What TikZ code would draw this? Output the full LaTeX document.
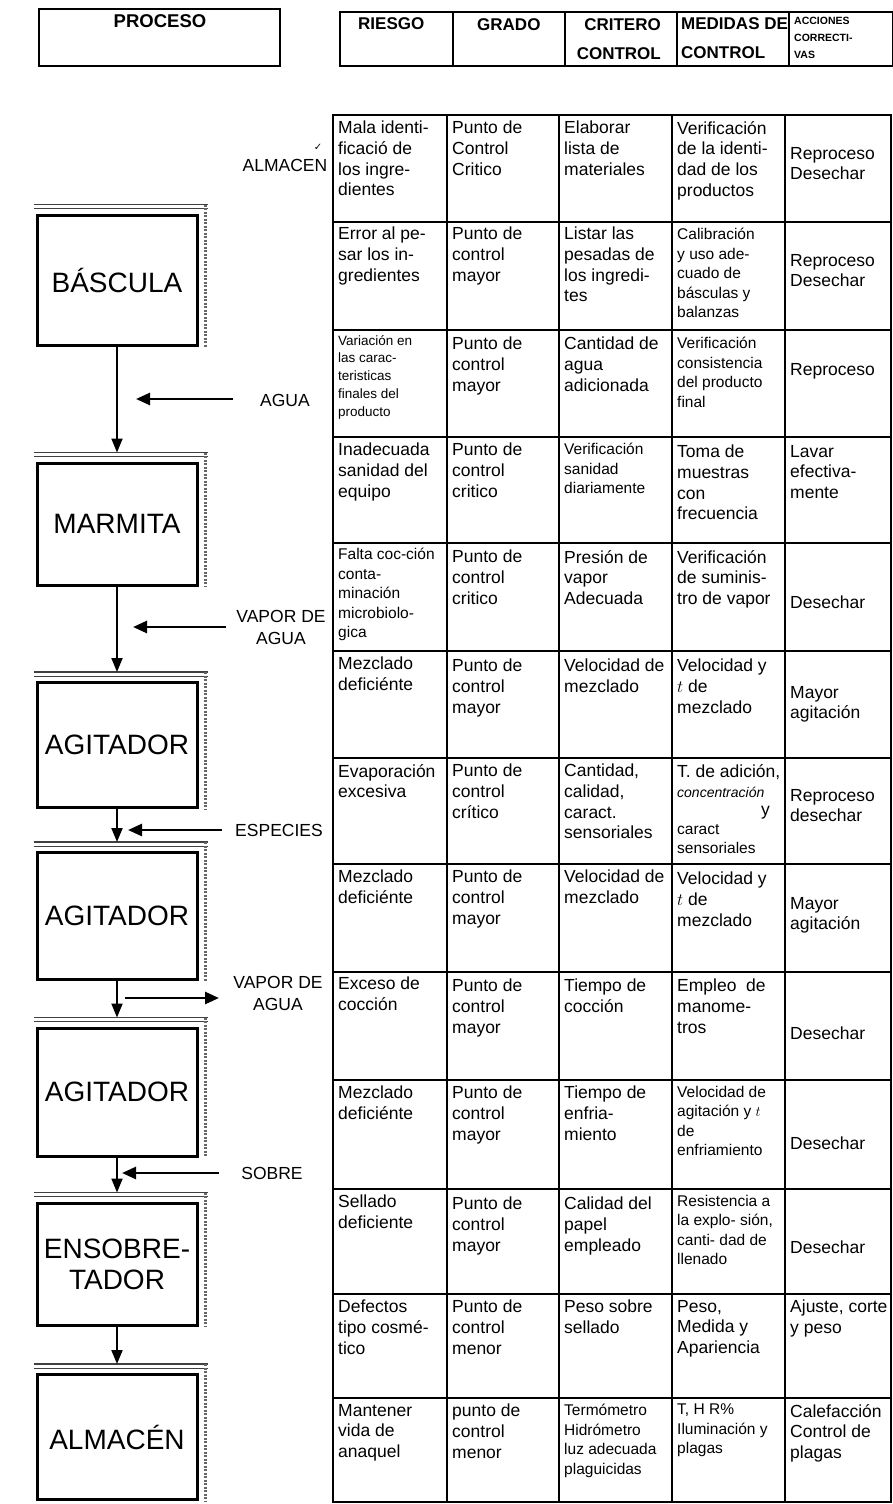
\documentclass[tikz,border=0pt]{standalone}
\usepackage{fontspec}
\setmainfont{Liberation Sans}
\newfontfamily\symfont{DejaVu Sans}
\usetikzlibrary{arrows.meta,calc}
\begin{document}
\begin{tikzpicture}[x=1pt,y=-1pt,
  tline/.style={line width=2.2pt, line cap=rect},
  cell/.style={anchor=north west, align=left, inner sep=0pt, font=\fontsize{17.5}{20.7}\selectfont},
  cellsm/.style={cell, font=\fontsize{15.5}{19.5}\selectfont},
  celltiny/.style={cell, font=\fontsize{13.5}{17.8}\selectfont},
  hdr/.style={anchor=north west, align=left, inner sep=0pt, font=\bfseries\fontsize{17}{29}\selectfont},
  hdrsm/.style={hdr, font=\bfseries\fontsize{10.5}{17}\selectfont},
  flowbox/.style={draw, line width=3pt, minimum width=160pt, align=center, inner sep=0pt, font=\fontsize{28}{31}\selectfont},
  shadeline/.style={line width=1.6pt, black!75},
  shadeside/.style={line width=3pt, black!60, dash pattern=on 2pt off 1.5pt},
  side/.style={align=center, inner sep=0pt, font=\fontsize{17.5}{22}\selectfont},
  flow/.style={line width=2pt, -{Triangle[length=14pt,width=11pt]}},
  feed/.style={line width=2.6pt, -{Triangle[length=14pt,width=12pt]}},
]
\useasboundingbox (0,0) rectangle (893,1504);

% ---------- column headings ----------
\node[draw, line width=2pt, minimum width=241pt, minimum height=57pt, anchor=north west, inner sep=0pt] (proc) at (38,8) {};
\node[hdr, anchor=north, font=\bfseries\fontsize{18.5}{22}\selectfont] (procT) at (160,14) {PROCESO};

\draw[tline] (340,12) rectangle (893,66);
\foreach \x in {453,565,677,789} \draw[tline] (\x,12) -- (\x,66);
\node[hdr] (hRiesgo) at (358,17) {RIESGO};
\node[hdr] (hGrado) at (477,18) {GRADO};
\node[hdr, align=right, anchor=north east] (hCrit) at (661,18) {CRITERO\\CONTROL};
\node[hdr] (hMed) at (681,17) {MEDIDAS DE\\CONTROL};
\node[hdrsm] (hAcc) at (794,17) {ACCIONES\\CORRECTI-\\VAS};

% ---------- hazard table grid ----------
\draw[tline] (333,115) rectangle (891,1502);
\foreach \x in {447,559,672,785} \draw[tline] (\x,115) -- (\x,1502);
\foreach \y in {222,330,437,543,651,758,864,972,1080,1189,1294,1398} \draw[tline] (333,\y) -- (891,\y);

% row 1
\node[cell] (r1c1) at (338,121) {Mala identi-\\ficació de\\los ingre-\\dientes};
\node[cell] (r1c2) at (452,121) {Punto de\\Control\\Critico};
\node[cell] (r1c3) at (564,121) {Elaborar\\lista de\\materiales};
\node[cell] (r1c4) at (677,121) {Verificación\\de la identi-\\dad de los\\productos};
\node[cell] (r1c5) at (790,147) {Reproceso\\Desechar};
% row 2
\node[cell] (r2c1) at (338,227) {Error al pe-\\sar los in-\\gredientes};
\node[cell] (r2c2) at (452,227) {Punto de\\control\\mayor};
\node[cell] (r2c3) at (564,227) {Listar las\\pesadas de\\los ingredi-\\tes};
\node[cellsm] (r2c4) at (677,228) {Calibración\\y uso ade-\\cuado de\\básculas y\\balanzas};
\node[cell] (r2c5) at (790,254) {Reproceso\\Desechar};
% row 3
\node[celltiny] (r3c1) at (338,335) {Variación en\\las carac-\\teristicas\\finales del\\producto};
\node[cell] (r3c2) at (452,337) {Punto de\\control\\mayor};
\node[cell] (r3c3) at (564,337) {Cantidad de\\agua\\adicionada};
\node[cellsm] (r3c4) at (677,337) {Verificación\\consistencia\\del producto\\final};
\node[cell] (r3c5) at (790,363) {Reproceso};
% row 4
\node[cell] (r4c1) at (338,443) {Inadecuada\\sanidad del\\equipo};
\node[cell] (r4c2) at (452,443) {Punto de\\control\\critico};
\node[cellsm] (r4c3) at (564,443) {Verificación\\sanidad\\diariamente};
\node[cell] (r4c4) at (677,445) {Toma de\\muestras\\con\\frecuencia};
\node[cell] (r4c5) at (790,445) {Lavar\\efectiva-\\mente};
% row 5
\node[cellsm] (r5c1) at (338,548) {Falta coc-ción\\conta-\\minación\\microbiolo-\\gica};
\node[cell] (r5c2) at (452,550) {Punto de\\control\\critico};
\node[cell] (r5c3) at (564,550) {Presión de\\vapor\\Adecuada};
\node[cell] (r5c4) at (677,550) {Verificación\\de suminis-\\tro de vapor};
\node[cell] (r5c5) at (790,596) {Desechar};
% row 6
\node[cell] (r6c1) at (338,657) {Mezclado\\deficiénte};
\node[cell] (r6c2) at (452,659) {Punto de\\control\\mayor};
\node[cell] (r6c3) at (564,659) {Velocidad de\\mezclado};
\node[cell] (r6c4) at (677,659) {Velocidad y\\$t$ de\\mezclado};
\node[cell] (r6c5) at (790,686) {Mayor\\agitación};
% row 7
\node[cell] (r7c1) at (338,764) {Evaporación\\excesiva};
\node[cell] (r7c2) at (452,764) {Punto de\\control\\crítico};
\node[cell] (r7c3) at (564,764) {Cantidad,\\calidad,\\caract.\\sensoriales};
\node[cell] (r7c4) at (677,764) {T. de adición,\\{\fontsize{14}{20.7}\selectfont\itshape concentración}};
\node[cell, anchor=north east] (r7c4y) at (770,806) {y};
\node[cellsm] (r7c4b) at (677,824) {caract\\sensoriales};
\node[cell] (r7c5) at (790,789) {Reproceso\\desechar};
% row 8
\node[cell] (r8c1) at (338,870) {Mezclado\\deficiénte};
\node[cell] (r8c2) at (452,870) {Punto de\\control\\mayor};
\node[cell] (r8c3) at (564,870) {Velocidad de\\mezclado};
\node[cell] (r8c4) at (677,872) {Velocidad y\\$t$ de\\mezclado};
\node[cell] (r8c5) at (790,897) {Mayor\\agitación};
% row 9
\node[cell] (r9c1) at (338,977) {Exceso de\\cocción};
\node[cell] (r9c2) at (452,979) {Punto de\\control\\mayor};
\node[cell] (r9c3) at (564,979) {Tiempo de\\cocción};
\node[cell] (r9c4) at (677,979) {Empleo\ \ de\\manome-\\tros};
\node[cell] (r9c5) at (790,1027) {Desechar};
% row 10
\node[cell] (r10c1) at (338,1086) {Mezclado\\deficiénte};
\node[cell] (r10c2) at (452,1086) {Punto de\\control\\mayor};
\node[cell] (r10c3) at (564,1086) {Tiempo de\\enfria-\\miento};
\node[cellsm] (r10c4) at (677,1086) {Velocidad de\\agitación y $t$\\de\\enfriamiento};
\node[cell] (r10c5) at (790,1137) {Desechar};
% row 11
\node[cell] (r11c1) at (338,1195) {Sellado\\deficiente};
\node[cell] (r11c2) at (452,1197) {Punto de\\control\\mayor};
\node[cell] (r11c3) at (564,1197) {Calidad del\\papel\\empleado};
\node[cellsm] (r11c4) at (677,1195) {Resistencia a\\la explo- sión,\\canti- dad de\\llenado};
\node[cell] (r11c5) at (790,1241) {Desechar};
% row 12
\node[cell] (r12c1) at (338,1300) {Defectos\\tipo cosmé-\\tico};
\node[cell] (r12c2) at (452,1300) {Punto de\\control\\menor};
\node[cell] (r12c3) at (564,1300) {Peso sobre\\sellado};
\node[cell] (r12c4) at (677,1300) {Peso,\\Medida y\\Apariencia};
\node[cell] (r12c5) at (790,1300) {Ajuste, corte\\y peso};
% row 13
\node[cell] (r13c1) at (338,1404) {Mantener\\vida de\\anaquel};
\node[cell] (r13c2) at (452,1404) {punto de\\control\\menor};
\node[cellsm] (r13c3) at (564,1404) {Termómetro\\Hidrómetro\\luz adecuada\\plaguicidas};
\node[cellsm] (r13c4) at (677,1404) {T, H R\%\\Iluminación y\\plagas};
\node[cell] (r13c5) at (790,1404) {Calefacción\\Control de\\plagas};

% ---------- process flow ----------
\node[flowbox, minimum height=130pt] (b1) at (117,280) {BÁSCULA};
\node[flowbox, minimum height=122pt] (b2) at (117,524) {MARMITA};
\node[flowbox, minimum height=125pt] (b3) at (117,745) {AGITADOR};
\node[flowbox, minimum height=127pt] (b4) at (117,916) {AGITADOR};
\node[flowbox, minimum height=128pt] (b5) at (117,1092) {AGITADOR};
\node[flowbox, minimum height=122pt] (b6) at (117,1264) {ENSOBRE-\\TADOR};
\node[flowbox, minimum height=125pt] (b7) at (117,1437) {ALMACÉN};

% raised edges above and beside each step box
\foreach \b in {b1,b2,b3,b4,b5,b6,b7}{
  \draw[shadeline] ($(\b.north west)+(-2,-9)$) -- ($(\b.north east)+(9,-9)$);
  \draw[shadeline, line width=0.8pt] ($(\b.north west)+(-2,-5)$) -- ($(\b.north east)+(9,-5)$);
  \draw[shadeside] ($(\b.north east)+(7,-9)$) -- ($(\b.south east)+(7,0)$);
}

% step-to-step connectors
\draw[flow] (b1.south) -- ($(b2.north)+(0,-9)$);
\draw[flow] (b2.south) -- ($(b3.north)+(0,-9)$);
\draw[flow] (b3.south) -- ($(b4.north)+(0,-9)$);
\draw[flow] (b4.south) -- ($(b5.north)+(0,-9)$);
\draw[flow] (b5.south) -- ($(b6.north)+(0,-9)$);
\draw[flow] (b6.south) -- ($(b7.north)+(0,-9)$);

% inputs and outputs at the side of the line
\node[side] (lAlm) at (285,165) {ALMACEN};
\node[font=\symfont\fontsize{10}{10}\selectfont, inner sep=0pt] (lTick) at (318,147) {✓};

\coordinate (aguaS) at (233,399); \coordinate (aguaE) at (136,399);
\draw[feed] (aguaS) -- (aguaE);
\node[side] (lAgua) at (285,400) {AGUA};

\coordinate (vapS) at (226,627); \coordinate (vapE) at (133,627);
\draw[feed] (vapS) -- (vapE);
\node[side] (lVap) at (281,627) {VAPOR DE\\AGUA};

\coordinate (espS) at (222,830); \coordinate (espE) at (128,830);
\draw[feed] (espS) -- (espE);
\node[side] (lEsp) at (279,830) {ESPECIES};

\coordinate (vap2S) at (125,998); \coordinate (vap2E) at (219,998);
\draw[feed] (vap2S) -- (vap2E);
\node[side] (lVap2) at (278,993) {VAPOR DE\\AGUA};

\coordinate (sobS) at (219,1173); \coordinate (sobE) at (122,1173);
\draw[feed] (sobS) -- (sobE);
\node[side] (lSob) at (272,1173) {SOBRE};
\end{tikzpicture}
\end{document}
